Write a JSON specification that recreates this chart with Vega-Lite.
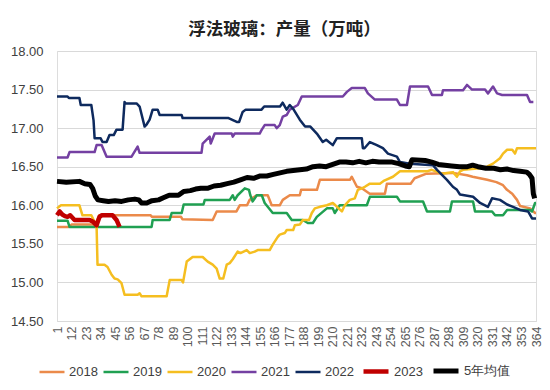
{
"$schema": "https://vega.github.io/schema/vega-lite/v6.json",
"width": 479, "height": 270,
"autosize": {"type": "none"},
"padding": {"left": 57, "top": 51, "right": 14, "bottom": 69},
"background": "white",
"title": {"text": "浮法玻璃：产量（万吨）", "font": "Noto Sans CJK SC", "fontSize": 17.5, "fontWeight": "bold", "color": "#222222", "anchor": "middle", "dx": -12, "offset": 7},
"data": {"values": [
{"s":"2018","d":1,"v":15.72},{"s":"2018","d":10,"v":15.72},{"s":"2018","d":12,"v":15.75},{"s":"2018","d":30,"v":15.75},{"s":"2018","d":33,"v":15.87},{"s":"2018","d":72,"v":15.87},{"s":"2018","d":73,"v":15.85},{"s":"2018","d":95,"v":15.85},{"s":"2018","d":96,"v":15.82},{"s":"2018","d":119,"v":15.81},{"s":"2018","d":122,"v":15.92},{"s":"2018","d":137,"v":15.92},{"s":"2018","d":139.5,"v":16.0},{"s":"2018","d":145,"v":16.0},{"s":"2018","d":147,"v":16.07},{"s":"2018","d":152.4,"v":16.13},{"s":"2018","d":160.7,"v":16.13},{"s":"2018","d":163.7,"v":16.0},{"s":"2018","d":169.8,"v":16.0},{"s":"2018","d":172.1,"v":16.07},{"s":"2018","d":177.4,"v":16.13},{"s":"2018","d":185,"v":16.13},{"s":"2018","d":186,"v":16.2},{"s":"2018","d":198,"v":16.2},{"s":"2018","d":200.2,"v":16.33},{"s":"2018","d":223,"v":16.33},{"s":"2018","d":224.4,"v":16.37},{"s":"2018","d":228.3,"v":16.24},{"s":"2018","d":232,"v":16.22},{"s":"2018","d":238,"v":16.15},{"s":"2018","d":249.5,"v":16.15},{"s":"2018","d":251,"v":16.28},{"s":"2018","d":269,"v":16.28},{"s":"2018","d":272,"v":16.35},{"s":"2018","d":281,"v":16.41},{"s":"2018","d":301,"v":16.42},{"s":"2018","d":311.7,"v":16.39},{"s":"2018","d":316,"v":16.37},{"s":"2018","d":327,"v":16.33},{"s":"2018","d":334,"v":16.3},{"s":"2018","d":339,"v":16.26},{"s":"2018","d":342,"v":16.2},{"s":"2018","d":346,"v":16.15},{"s":"2018","d":349.6,"v":16.07},{"s":"2018","d":352,"v":15.99},{"s":"2018","d":359.5,"v":15.96},{"s":"2018","d":363.3,"v":15.9},{"s":"2018","d":364,"v":15.9},
{"s":"2019","d":1,"v":15.8},{"s":"2019","d":9,"v":15.8},{"s":"2019","d":10.5,"v":15.72},{"s":"2019","d":72.7,"v":15.72},{"s":"2019","d":73.5,"v":15.81},{"s":"2019","d":86.4,"v":15.81},{"s":"2019","d":87.9,"v":15.9},{"s":"2019","d":95.5,"v":15.9},{"s":"2019","d":97,"v":16.01},{"s":"2019","d":112,"v":16.01},{"s":"2019","d":113,"v":16.07},{"s":"2019","d":131.9,"v":16.07},{"s":"2019","d":134.2,"v":16.13},{"s":"2019","d":135.7,"v":16.07},{"s":"2019","d":137.9,"v":16.13},{"s":"2019","d":143.3,"v":16.22},{"s":"2019","d":146.5,"v":16.2},{"s":"2019","d":147.5,"v":16.13},{"s":"2019","d":149.3,"v":16.05},{"s":"2019","d":152.4,"v":16.13},{"s":"2019","d":156.2,"v":16.13},{"s":"2019","d":158.4,"v":16.03},{"s":"2019","d":164.5,"v":15.9},{"s":"2019","d":175.1,"v":15.9},{"s":"2019","d":178.9,"v":15.81},{"s":"2019","d":187.3,"v":15.81},{"s":"2019","d":191.1,"v":15.77},{"s":"2019","d":194.9,"v":15.77},{"s":"2019","d":197.9,"v":15.85},{"s":"2019","d":205.5,"v":15.96},{"s":"2019","d":210,"v":15.96},{"s":"2019","d":211.5,"v":15.9},{"s":"2019","d":215.3,"v":16.0},{"s":"2019","d":235.8,"v":16.0},{"s":"2019","d":238.1,"v":16.11},{"s":"2019","d":258.6,"v":16.11},{"s":"2019","d":260.9,"v":16.05},{"s":"2019","d":278.4,"v":16.05},{"s":"2019","d":281.4,"v":15.92},{"s":"2019","d":298.8,"v":15.92},{"s":"2019","d":300.3,"v":16.05},{"s":"2019","d":316.3,"v":16.05},{"s":"2019","d":317.8,"v":15.92},{"s":"2019","d":330.7,"v":15.92},{"s":"2019","d":333,"v":15.87},{"s":"2019","d":339,"v":15.87},{"s":"2019","d":342.1,"v":15.94},{"s":"2019","d":359.5,"v":15.94},{"s":"2019","d":361,"v":15.92},{"s":"2019","d":363.3,"v":16.03},{"s":"2019","d":364,"v":16.03},
{"s":"2020","d":1,"v":15.96},{"s":"2020","d":4,"v":16.0},{"s":"2020","d":18,"v":16.0},{"s":"2020","d":20.3,"v":15.87},{"s":"2020","d":27,"v":15.87},{"s":"2020","d":31,"v":15.73},{"s":"2020","d":31.7,"v":15.23},{"s":"2020","d":37,"v":15.23},{"s":"2020","d":39.3,"v":15.2},{"s":"2020","d":42.4,"v":15.1},{"s":"2020","d":44.6,"v":15.05},{"s":"2020","d":47,"v":15.04},{"s":"2020","d":49.9,"v":14.99},{"s":"2020","d":52.2,"v":14.84},{"s":"2020","d":62.1,"v":14.84},{"s":"2020","d":63.6,"v":14.86},{"s":"2020","d":65.1,"v":14.82},{"s":"2020","d":84.1,"v":14.82},{"s":"2020","d":86.4,"v":15.03},{"s":"2020","d":95.5,"v":15.03},{"s":"2020","d":96.5,"v":15.0},{"s":"2020","d":99.3,"v":15.27},{"s":"2020","d":103.8,"v":15.33},{"s":"2020","d":111.4,"v":15.33},{"s":"2020","d":115.2,"v":15.27},{"s":"2020","d":119,"v":15.23},{"s":"2020","d":122,"v":15.18},{"s":"2020","d":124.3,"v":15.05},{"s":"2020","d":127,"v":15.05},{"s":"2020","d":129.6,"v":15.23},{"s":"2020","d":131.9,"v":15.25},{"s":"2020","d":134.2,"v":15.3},{"s":"2020","d":137.9,"v":15.4},{"s":"2020","d":140,"v":15.38},{"s":"2020","d":144.8,"v":15.42},{"s":"2020","d":147.1,"v":15.38},{"s":"2020","d":150.8,"v":15.4},{"s":"2020","d":153.1,"v":15.42},{"s":"2020","d":162.2,"v":15.42},{"s":"2020","d":164.5,"v":15.49},{"s":"2020","d":168.3,"v":15.59},{"s":"2020","d":169.8,"v":15.62},{"s":"2020","d":173.6,"v":15.64},{"s":"2020","d":175.1,"v":15.68},{"s":"2020","d":180,"v":15.68},{"s":"2020","d":181.2,"v":15.74},{"s":"2020","d":185,"v":15.75},{"s":"2020","d":187.3,"v":15.81},{"s":"2020","d":192,"v":15.81},{"s":"2020","d":194.1,"v":15.9},{"s":"2020","d":196.4,"v":15.96},{"s":"2020","d":200.2,"v":15.98},{"s":"2020","d":205.5,"v":16.0},{"s":"2020","d":210,"v":16.03},{"s":"2020","d":212,"v":16.0},{"s":"2020","d":216.9,"v":15.92},{"s":"2020","d":219.1,"v":16.0},{"s":"2020","d":222.9,"v":16.07},{"s":"2020","d":226.7,"v":16.09},{"s":"2020","d":229,"v":16.2},{"s":"2020","d":232,"v":16.22},{"s":"2020","d":234.3,"v":16.24},{"s":"2020","d":238.1,"v":16.28},{"s":"2020","d":245.7,"v":16.28},{"s":"2020","d":249,"v":16.32},{"s":"2020","d":255.6,"v":16.37},{"s":"2020","d":260.9,"v":16.44},{"s":"2020","d":281.4,"v":16.44},{"s":"2020","d":285,"v":16.46},{"s":"2020","d":292.7,"v":16.41},{"s":"2020","d":301.1,"v":16.43},{"s":"2020","d":304.1,"v":16.37},{"s":"2020","d":306.4,"v":16.44},{"s":"2020","d":308.7,"v":16.46},{"s":"2020","d":321.6,"v":16.48},{"s":"2020","d":326.9,"v":16.5},{"s":"2020","d":331.4,"v":16.54},{"s":"2020","d":336.7,"v":16.61},{"s":"2020","d":339,"v":16.67},{"s":"2020","d":342.1,"v":16.72},{"s":"2020","d":346,"v":16.72},{"s":"2020","d":348.1,"v":16.67},{"s":"2020","d":349.6,"v":16.74},{"s":"2020","d":364,"v":16.74},
{"s":"2021","d":1,"v":16.62},{"s":"2021","d":9,"v":16.62},{"s":"2021","d":10.5,"v":16.69},{"s":"2021","d":29.5,"v":16.69},{"s":"2021","d":31,"v":16.78},{"s":"2021","d":34.8,"v":16.78},{"s":"2021","d":38.6,"v":16.63},{"s":"2021","d":57.5,"v":16.63},{"s":"2021","d":62.1,"v":16.76},{"s":"2021","d":63.6,"v":16.68},{"s":"2021","d":110.5,"v":16.68},{"s":"2021","d":111.4,"v":16.8},{"s":"2021","d":116.7,"v":16.89},{"s":"2021","d":117.5,"v":16.8},{"s":"2021","d":120.5,"v":16.93},{"s":"2021","d":133.4,"v":16.93},{"s":"2021","d":134.2,"v":16.89},{"s":"2021","d":135.7,"v":16.93},{"s":"2021","d":154.6,"v":16.93},{"s":"2021","d":156.2,"v":16.98},{"s":"2021","d":158.4,"v":17.04},{"s":"2021","d":166,"v":17.04},{"s":"2021","d":167.5,"v":17.0},{"s":"2021","d":169.8,"v":17.04},{"s":"2021","d":172.1,"v":17.15},{"s":"2021","d":175,"v":17.17},{"s":"2021","d":177.4,"v":17.24},{"s":"2021","d":183.5,"v":17.3},{"s":"2021","d":186.5,"v":17.41},{"s":"2021","d":217.6,"v":17.41},{"s":"2021","d":220.7,"v":17.47},{"s":"2021","d":224.4,"v":17.52},{"s":"2021","d":234.3,"v":17.52},{"s":"2021","d":236.6,"v":17.45},{"s":"2021","d":241.9,"v":17.37},{"s":"2021","d":258.6,"v":17.37},{"s":"2021","d":260.9,"v":17.3},{"s":"2021","d":266.2,"v":17.3},{"s":"2021","d":268.5,"v":17.54},{"s":"2021","d":282.2,"v":17.54},{"s":"2021","d":285.2,"v":17.43},{"s":"2021","d":292.7,"v":17.43},{"s":"2021","d":293.5,"v":17.49},{"s":"2021","d":308.7,"v":17.49},{"s":"2021","d":311.7,"v":17.56},{"s":"2021","d":315.5,"v":17.5},{"s":"2021","d":325.4,"v":17.5},{"s":"2021","d":327.6,"v":17.45},{"s":"2021","d":331.4,"v":17.54},{"s":"2021","d":334.5,"v":17.45},{"s":"2021","d":338.3,"v":17.43},{"s":"2021","d":357.2,"v":17.43},{"s":"2021","d":359.5,"v":17.34},{"s":"2021","d":362,"v":17.34},
{"s":"2022","d":1,"v":17.41},{"s":"2022","d":9,"v":17.41},{"s":"2022","d":10,"v":17.39},{"s":"2022","d":18,"v":17.39},{"s":"2022","d":19,"v":17.3},{"s":"2022","d":27,"v":17.3},{"s":"2022","d":28.7,"v":17.1},{"s":"2022","d":29.5,"v":16.87},{"s":"2022","d":34,"v":16.87},{"s":"2022","d":35.5,"v":16.82},{"s":"2022","d":38.6,"v":16.82},{"s":"2022","d":40.8,"v":16.91},{"s":"2022","d":44,"v":16.91},{"s":"2022","d":46.1,"v":16.98},{"s":"2022","d":50.7,"v":16.98},{"s":"2022","d":52.2,"v":17.34},{"s":"2022","d":53,"v":17.32},{"s":"2022","d":61.3,"v":17.32},{"s":"2022","d":63.6,"v":17.28},{"s":"2022","d":67.4,"v":17.02},{"s":"2022","d":69,"v":17.05},{"s":"2022","d":71.2,"v":17.11},{"s":"2022","d":73.5,"v":17.24},{"s":"2022","d":77.3,"v":17.24},{"s":"2022","d":78.8,"v":17.17},{"s":"2022","d":95.5,"v":17.17},{"s":"2022","d":96.2,"v":17.13},{"s":"2022","d":131,"v":17.13},{"s":"2022","d":137.2,"v":17.08},{"s":"2022","d":139,"v":17.08},{"s":"2022","d":141.7,"v":17.21},{"s":"2022","d":144,"v":17.24},{"s":"2022","d":156,"v":17.24},{"s":"2022","d":158,"v":17.28},{"s":"2022","d":170,"v":17.28},{"s":"2022","d":172,"v":17.33},{"s":"2022","d":175,"v":17.24},{"s":"2022","d":177.4,"v":17.3},{"s":"2022","d":180,"v":17.25},{"s":"2022","d":185,"v":17.11},{"s":"2022","d":189,"v":17.02},{"s":"2022","d":193,"v":17.02},{"s":"2022","d":197.9,"v":16.93},{"s":"2022","d":202.4,"v":16.82},{"s":"2022","d":205,"v":16.85},{"s":"2022","d":210,"v":16.78},{"s":"2022","d":213.1,"v":16.87},{"s":"2022","d":232,"v":16.87},{"s":"2022","d":232.8,"v":16.74},{"s":"2022","d":234,"v":16.74},{"s":"2022","d":238.1,"v":16.82},{"s":"2022","d":243.4,"v":16.78},{"s":"2022","d":248,"v":16.74},{"s":"2022","d":251.8,"v":16.67},{"s":"2022","d":258.6,"v":16.63},{"s":"2022","d":260.9,"v":16.56},{"s":"2022","d":268.5,"v":16.54},{"s":"2022","d":285.9,"v":16.52},{"s":"2022","d":289,"v":16.46},{"s":"2022","d":296.5,"v":16.33},{"s":"2022","d":301,"v":16.24},{"s":"2022","d":304.1,"v":16.2},{"s":"2022","d":306.4,"v":16.14},{"s":"2022","d":316.3,"v":16.11},{"s":"2022","d":321.6,"v":16.03},{"s":"2022","d":327.6,"v":15.98},{"s":"2022","d":330.7,"v":16.09},{"s":"2022","d":336.7,"v":16.07},{"s":"2022","d":342.1,"v":16.01},{"s":"2022","d":346.6,"v":15.98},{"s":"2022","d":351.9,"v":15.94},{"s":"2022","d":358,"v":15.92},{"s":"2022","d":361,"v":15.83},{"s":"2022","d":364,"v":15.83},
{"s":"5年均值","d":1,"v":16.31},{"s":"5年均值","d":8,"v":16.3},{"s":"5年均值","d":18,"v":16.31},{"s":"5年均值","d":22,"v":16.28},{"s":"5年均值","d":26,"v":16.27},{"s":"5年均值","d":28,"v":16.22},{"s":"5年均值","d":30,"v":16.12},{"s":"5年均值","d":32,"v":16.07},{"s":"5年均值","d":36,"v":16.06},{"s":"5年均值","d":40,"v":16.05},{"s":"5年均值","d":45,"v":16.06},{"s":"5年均值","d":50,"v":16.05},{"s":"5年均值","d":55,"v":16.07},{"s":"5年均值","d":60,"v":16.08},{"s":"5年均值","d":63,"v":16.07},{"s":"5年均值","d":65,"v":16.03},{"s":"5年均值","d":69,"v":16.03},{"s":"5年均值","d":73,"v":16.06},{"s":"5年均值","d":78,"v":16.07},{"s":"5年均值","d":82,"v":16.1},{"s":"5年均值","d":86,"v":16.13},{"s":"5年均值","d":93,"v":16.13},{"s":"5年均值","d":97,"v":16.18},{"s":"5年均值","d":102,"v":16.19},{"s":"5年均值","d":106,"v":16.21},{"s":"5年均值","d":110,"v":16.22},{"s":"5年均值","d":115,"v":16.22},{"s":"5年均值","d":120,"v":16.25},{"s":"5年均值","d":125,"v":16.26},{"s":"5年均值","d":130,"v":16.28},{"s":"5年均值","d":135,"v":16.3},{"s":"5年均值","d":140,"v":16.33},{"s":"5年均值","d":145,"v":16.36},{"s":"5年均值","d":150,"v":16.35},{"s":"5年均值","d":155,"v":16.38},{"s":"5年均值","d":160,"v":16.38},{"s":"5年均值","d":165,"v":16.4},{"s":"5年均值","d":170,"v":16.42},{"s":"5年均值","d":175,"v":16.44},{"s":"5年均值","d":180,"v":16.45},{"s":"5年均值","d":185,"v":16.46},{"s":"5年均值","d":190,"v":16.47},{"s":"5年均值","d":195,"v":16.5},{"s":"5年均值","d":200,"v":16.51},{"s":"5年均值","d":205,"v":16.5},{"s":"5年均值","d":210,"v":16.53},{"s":"5年均值","d":215,"v":16.56},{"s":"5年均值","d":220,"v":16.56},{"s":"5年均值","d":225,"v":16.55},{"s":"5年均值","d":230,"v":16.57},{"s":"5年均值","d":235,"v":16.55},{"s":"5年均值","d":240,"v":16.57},{"s":"5年均值","d":245,"v":16.56},{"s":"5年均值","d":250,"v":16.56},{"s":"5年均值","d":255,"v":16.56},{"s":"5年均值","d":260,"v":16.54},{"s":"5年均值","d":265,"v":16.51},{"s":"5年均值","d":268,"v":16.5},{"s":"5年均值","d":270,"v":16.59},{"s":"5年均值","d":280,"v":16.58},{"s":"5年均值","d":285,"v":16.56},{"s":"5年均值","d":290,"v":16.53},{"s":"5年均值","d":295,"v":16.52},{"s":"5年均值","d":300,"v":16.51},{"s":"5年均值","d":306,"v":16.5},{"s":"5年均值","d":312,"v":16.5},{"s":"5年均值","d":316,"v":16.52},{"s":"5年均值","d":320,"v":16.5},{"s":"5年均值","d":326,"v":16.48},{"s":"5年均值","d":332,"v":16.48},{"s":"5年均值","d":337,"v":16.46},{"s":"5年均值","d":342,"v":16.47},{"s":"5年均值","d":347,"v":16.45},{"s":"5年均值","d":352,"v":16.44},{"s":"5年均值","d":357,"v":16.43},{"s":"5年均值","d":359,"v":16.4},{"s":"5年均值","d":361,"v":16.35},{"s":"5年均值","d":362,"v":16.15},{"s":"5年均值","d":363,"v":16.09},
{"s":"2023","d":1,"v":15.87},{"s":"2023","d":3,"v":15.92},{"s":"2023","d":5,"v":15.88},{"s":"2023","d":7,"v":15.86},{"s":"2023","d":9,"v":15.85},{"s":"2023","d":11,"v":15.87},{"s":"2023","d":14.3,"v":15.81},{"s":"2023","d":25.7,"v":15.81},{"s":"2023","d":28,"v":15.79},{"s":"2023","d":31,"v":15.74},{"s":"2023","d":33.2,"v":15.85},{"s":"2023","d":34.8,"v":15.87},{"s":"2023","d":43.1,"v":15.87},{"s":"2023","d":46.1,"v":15.81},{"s":"2023","d":48.4,"v":15.72}
]},
"mark": {"type": "line", "strokeJoin": "round", "strokeCap": "butt"},
"encoding": {
"x": {"field": "d", "type": "quantitative", "scale": {"domain": [1, 364], "nice": false, "zero": false},
 "axis": {"values": [1,12,23,34,45,56,67,78,89,100,111,122,133,144,155,166,177,188,199,210,221,232,243,254,265,276,287,298,309,320,331,342,353,364], "format": "d", "labelAngle": -90, "labelFlush": false, "labelOverlap": false, "title": null, "grid": false, "ticks": false, "domain": true, "domainColor": "#d9d9d9", "labelFont": "Liberation Sans", "labelFontSize": 12.5, "labelColor": "#595959", "labelPadding": 5}},
"y": {"field": "v", "type": "quantitative", "scale": {"domain": [14.5, 18], "nice": false, "zero": false},
 "axis": {"values": [14.5,15,15.5,16,16.5,17,17.5,18], "format": ".2f", "title": null, "ticks": false, "domain": false, "grid": true, "gridColor": "#d9d9d9", "gridWidth": 1, "labelFont": "Liberation Sans", "labelFontSize": 13, "labelColor": "#404040", "labelPadding": 14}},
"color": {"field": "s", "type": "nominal", "scale": {"domain": ["2018","2019","2020","2021","2022","2023","5年均值"], "range": ["#EB8A4A","#20A052","#F5BE20","#7440A2","#0E2A5E","#C00000","#000000"]},
 "legend": {"orient": "none", "legendX": -19, "legendY": 305, "direction": "horizontal", "title": null, "symbolType": "stroke", "symbolSize": 625, "labelFont": "Liberation Sans", "labelFontSize": 13, "labelColor": "#404040", "columnPadding": 0, "labelOffset": 3}},
"strokeWidth": {"field": "s", "type": "nominal", "scale": {"type": "ordinal", "domain": ["2018","2019","2020","2021","2022","2023","5年均值"], "range": [2.5,2.5,2.5,2.5,2.5,4.5,5]},
 "legend": {"orient": "none", "legendX": -19, "legendY": 305, "direction": "horizontal", "title": null, "symbolType": "stroke", "symbolSize": 625, "labelFont": "Liberation Sans", "labelFontSize": 13, "labelColor": "#404040", "columnPadding": 0, "labelOffset": 3}}
}
}
